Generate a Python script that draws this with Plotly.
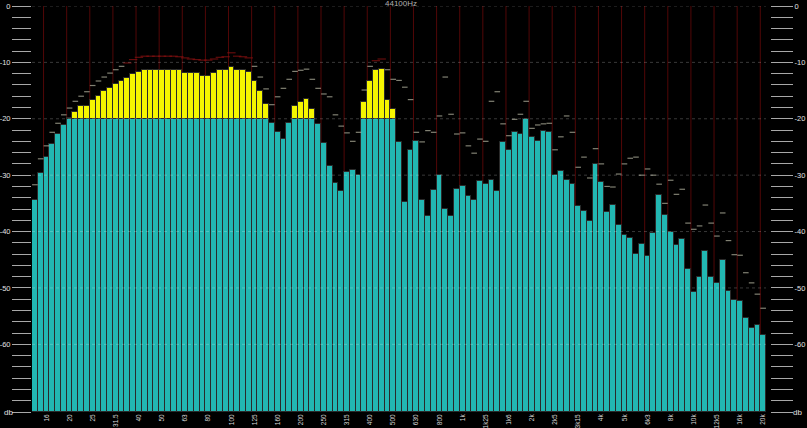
import plotly.graph_objects as go

# ---------------- data ----------------
freq_labels = ["16", "20", "25", "31.5", "40", "50", "63", "80", "100", "125",
               "160", "200", "250", "315", "400", "500", "630", "800", "1k", "1k25",
               "1k6", "2k", "2k5", "3k15", "4k", "5k", "6k3", "8k", "10k", "12k5",
               "16k", "20k"]

# 1/12-octave band levels (dB), lowest band first
level_db = [-34.4, -29.6, -26.8, -24.4, -22.7, -21.1, -19.9, -18.8, -17.7, -17.7,
            -16.6, -15.9, -15.0, -14.5, -13.9, -13.3, -12.7, -12.1, -11.7, -11.4,
            -11.4, -11.4, -11.4, -11.4, -11.4, -11.3, -11.8, -11.8, -11.9, -12.5,
            -12.4, -11.8, -11.4, -11.3, -10.9, -11.3, -11.4, -11.7, -13.3, -15.0,
            -17.3, -20.7, -22.3, -23.5, -20.7, -17.7, -17.1, -16.5, -18.2, -20.9,
            -24.3, -28.3, -31.3, -32.8, -29.4, -29.1, -30.0, -17.1, -13.3, -11.3,
            -11.1, -16.6, -18.2, -24.2, -34.7, -25.6, -23.9, -34.4, -37.2, -32.6,
            -29.9, -36.0, -37.2, -32.4, -31.9, -33.7, -34.4, -31.0, -31.6, -30.8,
            -32.8, -24.1, -25.5, -22.4, -22.7, -20.1, -23.2, -24.0, -22.1, -22.4,
            -29.9, -29.2, -30.9, -31.5, -35.4, -36.4, -38.2, -28.0, -31.2, -36.6,
            -35.3, -38.8, -40.6, -41.2, -44.0, -42.2, -44.3, -40.2, -33.5, -37.0,
            -40.1, -42.4, -41.3, -46.6, -50.8, -48.0, -43.4, -48.1, -49.2, -45.0,
            -50.5, -52.1, -52.4, -55.3, -57.1, -56.6, -58.4]

# peak-hold levels (dB)
peak_db = [-31.7, -27.1, -24.8, -22.4, -20.8, -19.3, -18.1, -16.9, -16.0, -15.2,
           -14.1, -13.3, -12.6, -11.9, -11.3, -10.7, -10.1, -9.5, -9.1, -8.9,
           -8.9, -8.9, -8.9, -8.9, -8.9, -9.0, -9.2, -9.4, -9.5, -9.6,
           -9.6, -9.4, -9.1, -9.0, -8.3, -8.9, -9.0, -9.2, -10.7, -12.6,
           -14.7, -17.5, -16.1, -14.6, -13.0, -11.6, -11.4, -11.2, -13.0, -14.6,
           -15.6, -16.1, -19.3, -21.3, -22.5, -24.0, -22.4, -14.9, -10.7, -9.7,
           -9.4, -11.3, -13.0, -13.2, -14.4, -16.6, -22.4, -24.1, -22.1, -22.4,
           -19.5, -12.6, -19.2, -22.7, -22.5, -24.8, -26.1, -23.6, -24.0, -16.9,
           -15.2, -20.9, -23.0, -20.1, -19.2, -16.9, -21.7, -21.1, -20.9, -20.8,
           -25.5, -23.2, -19.5, -22.4, -28.6, -26.8, -30.5, -25.3, -28.0, -32.0,
           -32.1, -29.8, -28.0, -27.0, -26.8, -30.0, -28.9, -30.0, -31.6, -35.0,
           -30.9, -33.4, -32.5, -38.5, -39.6, -39.0, -35.3, -38.5, -40.8, -36.7,
           -41.6, -44.1, -44.2, -47.3, -49.1, -51.1, -53.6]

db_major = [0, -10, -20, -30, -40, -50, -60]
db_major_labels = ["0", "-10", "-20", "-30", "-40", "-50", "-60"]
db_floor = -72
db_warn = -20
title_text = "44100Hz"
unit_text = "db"

# ---------------- derived ----------------
n = len(level_db)
idx = list(range(n))
bands_per_label = 4
first_label_band = 2
label_pos = [first_label_band + bands_per_label * i for i in range(len(freq_labels))]

teal_h = [min(v, db_warn) - db_floor for v in level_db]
yellow_h = [(v - db_warn) if v > db_warn else None for v in level_db]

db_ticks = list(range(db_floor, 1, 2))
lab_map = dict(zip(db_major, db_major_labels))
db_ticktext = [lab_map.get(t, "") for t in db_ticks]

peak_red = [p > -10.4 for p in peak_db]
peak_colors = ["#8e1212" if r else "#b8b8a4" for r in peak_red]
peak_sizes = [6 if r else 4 for r in peak_red]

TEAL = "#22B7B2"
YELLOW = "#F5F500"
SEP = "#2a2a2a"

fig = go.Figure()

fig.add_trace(go.Bar(x=idx, y=teal_h, base=db_floor, width=1,
                     marker=dict(color=TEAL, line=dict(color=SEP, width=1)),
                     hoverinfo="skip"))
fig.add_trace(go.Bar(x=idx, y=yellow_h, base=db_warn, width=1,
                     marker=dict(color=YELLOW, line=dict(color=SEP, width=1)),
                     hoverinfo="skip"))
fig.add_trace(go.Scatter(x=idx, y=peak_db, mode="markers", yaxis="y2",
                         marker=dict(symbol="line-ew", size=peak_sizes,
                                     color=peak_colors,
                                     line=dict(color=peak_colors, width=1.2)),
                         hoverinfo="skip"))

shapes = []
# dark red vertical band lines (at lower edge of each labelled band)
for p in label_pos:
    shapes.append(dict(type="line", xref="x", yref="y", x0=p - 0.5, x1=p - 0.5,
                       y0=db_floor, y1=0, layer="below",
                       line=dict(color="#520707", width=1)))
# dotted horizontal grid
for t in db_major:
    shapes.append(dict(type="line", xref="x", yref="y", x0=-0.5, x1=n - 0.5,
                       y0=t, y1=t, layer="above",
                       line=dict(color="rgba(255,255,255,0.22)", width=1, dash="dot")))

plot_w = 807 - 32 - 37
yaxis_common = dict(range=[db_floor, 0], tickvals=db_ticks, ticktext=db_ticktext,
                    ticks="outside", tickwidth=1, tickcolor="#a8a8a8",
                    showgrid=False, zeroline=False, showline=False,
                    ticklabelstandoff=0,
                    tickfont=dict(size=7.5, color="#e0e0e0", family="Liberation Sans"),
                    fixedrange=True)

fig.update_layout(
    width=807, height=428,
    margin=dict(l=32, r=37, t=6, b=16, autoexpand=False),
    paper_bgcolor="black", plot_bgcolor="black",
    showlegend=False, barmode="overlay", bargap=0,
    xaxis=dict(range=[-0.5, n - 0.5], domain=[0, (n * 5.78) / plot_w],
               tickvals=label_pos, ticktext=freq_labels, tickangle=-90,
               tickfont=dict(size=6.5, color="#d8d8d8", family="Liberation Sans"),
               ticklabelstandoff=0,
               showgrid=False, zeroline=False, showline=False, ticks="",
               fixedrange=True),
    yaxis=dict(**yaxis_common, ticklen=19),
    yaxis2=dict(**yaxis_common, ticklen=22, overlaying="y", anchor="free",
                position=1, side="right"),
    shapes=shapes,
    annotations=[
        dict(text=title_text, xref="paper", yref="paper", x=0.5, y=1.0,
             yshift=3, showarrow=False, yanchor="middle",
             font=dict(size=8, color="#b0b0b0", family="Liberation Sans")),
        dict(text=unit_text, xref="paper", yref="paper", x=0, y=0, xshift=-24,
             showarrow=False, xanchor="center", yanchor="middle",
             font=dict(size=8, color="#e0e0e0", family="Liberation Sans")),
        dict(text=unit_text, xref="paper", yref="paper", x=1, y=0, xshift=27,
             showarrow=False, xanchor="center", yanchor="middle",
             font=dict(size=8, color="#e0e0e0", family="Liberation Sans")),
    ],
)

fig.write_html("out.html", config={"displayModeBar": False},
               post_script="document.body.style.margin='0';document.body.style.overflow='hidden';")
